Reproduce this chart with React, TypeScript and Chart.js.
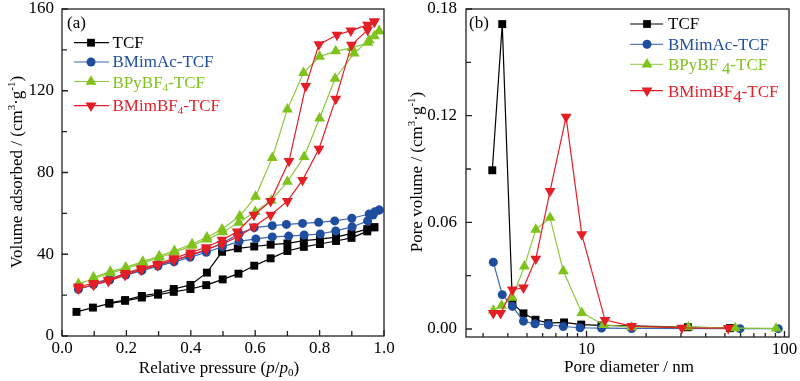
import React, { useEffect, useRef } from 'react';
import { Chart, registerables } from 'chart.js';
Chart.register(...registerables);

const FONT = '"Liberation Serif", "Times New Roman", serif';

// ---------- Panel (a): N2 isotherms ----------
const xTicksA = [0, 0.2, 0.4, 0.6, 0.8, 1.0];
const xMinorA = [0.1, 0.3, 0.5, 0.7, 0.9];
const yTicksA = [0, 40, 80, 120, 160];
const yMinorA = [20, 60, 100, 140];

const tcfAdsP = [0.045, 0.096, 0.147, 0.196, 0.248, 0.298, 0.347, 0.399, 0.448, 0.499, 0.548, 0.597, 0.648, 0.700, 0.751, 0.801, 0.851, 0.899, 0.948, 0.970];
const tcfAdsV = [11.8, 13.9, 15.8, 17.2, 18.8, 20.2, 21.6, 23.0, 24.9, 27.7, 30.5, 34.4, 38.0, 41.6, 43.6, 45.0, 46.5, 48.0, 51.2, 53.2];
const tcfDesP = [0.970, 0.948, 0.899, 0.851, 0.801, 0.751, 0.700, 0.648, 0.597, 0.546, 0.497, 0.450, 0.399, 0.347, 0.298, 0.248, 0.196, 0.147];
const tcfDesV = [53.2, 52.3, 50.2, 48.4, 47.4, 46.7, 45.3, 44.7, 43.8, 42.9, 41.2, 31.0, 25.0, 23.0, 20.9, 19.6, 17.6, 16.2];

const macAdsP = [0.051, 0.098, 0.148, 0.198, 0.248, 0.298, 0.348, 0.398, 0.448, 0.498, 0.550, 0.602, 0.653, 0.704, 0.752, 0.802, 0.850, 0.901, 0.949, 0.966, 0.985];
const macAdsV = [22.8, 25.2, 27.4, 29.8, 32.0, 34.2, 36.3, 38.5, 41.0, 43.6, 46.3, 47.5, 48.5, 48.9, 49.4, 49.9, 51.4, 53.4, 56.3, 59.2, 61.6];
const macDesP = [0.985, 0.972, 0.954, 0.900, 0.847, 0.797, 0.747, 0.697, 0.653, 0.597, 0.550, 0.498, 0.448, 0.398, 0.348, 0.298, 0.248, 0.198, 0.148, 0.098];
const macDesV = [61.6, 60.8, 59.7, 57.6, 56.3, 55.6, 55.1, 54.6, 54.0, 53.0, 50.0, 45.5, 42.0, 39.3, 37.0, 35.0, 32.8, 30.5, 28.0, 25.8];

const pyAdsP = [0.051, 0.098, 0.150, 0.198, 0.251, 0.302, 0.349, 0.404, 0.450, 0.499, 0.549, 0.600, 0.650, 0.700, 0.752, 0.800, 0.848, 0.907, 0.954, 0.985];
const pyAdsV = [25.5, 28.0, 30.8, 33.0, 35.8, 38.3, 40.9, 44.2, 47.3, 50.8, 55.5, 60.8, 66.3, 75.5, 87.7, 106.5, 126.0, 138.3, 144.8, 149.2];
const pyDesP = [0.985, 0.970, 0.950, 0.900, 0.850, 0.800, 0.750, 0.700, 0.653, 0.601, 0.552, 0.497, 0.450, 0.404, 0.349, 0.302, 0.251, 0.198, 0.150, 0.098];
const pyDesV = [149.2, 146.8, 143.5, 141.0, 139.4, 136.7, 128.8, 110.9, 87.2, 68.2, 58.7, 52.2, 48.3, 45.0, 41.7, 39.1, 36.4, 33.6, 31.5, 28.7];

const mbfAdsP = [0.051, 0.098, 0.144, 0.196, 0.246, 0.297, 0.347, 0.399, 0.448, 0.497, 0.546, 0.596, 0.648, 0.700, 0.747, 0.798, 0.850, 0.899, 0.949, 0.970];
const mbfAdsV = [23.2, 25.0, 26.8, 29.8, 32.3, 34.5, 37.0, 39.6, 42.3, 45.0, 48.5, 53.5, 59.2, 66.0, 76.3, 91.5, 116.0, 142.4, 149.8, 153.8];
const mbfDesP = [0.970, 0.949, 0.897, 0.854, 0.798, 0.757, 0.705, 0.648, 0.596, 0.544, 0.497, 0.448, 0.399, 0.347, 0.297, 0.246, 0.196, 0.144, 0.098, 0.051];
const mbfDesV = [153.8, 152.2, 149.4, 147.3, 142.7, 122.3, 85.6, 66.0, 59.2, 51.0, 47.0, 43.4, 40.8, 38.0, 35.2, 33.1, 30.7, 27.4, 25.8, 24.1];

// ---------- Panel (b): pore size distribution ----------
const xTicksB = [10, 100];
const xMinorB = [3, 4, 5, 6, 7, 8, 9, 20, 30, 40, 50, 60, 70, 80, 90];
const yTicksB = [0, 0.06, 0.12, 0.18];
const yMinorB = [0.03, 0.09, 0.15];

const tcfD = [3.34, 3.75, 4.22, 4.80, 5.52, 6.41, 7.70, 9.40, 11.9, 32.5, 53.0];
const tcfPV = [0.0893, 0.1715, 0.0145, 0.0088, 0.0052, 0.0033, 0.0037, 0.0025, 0.0020, 0.0010, 0.0005];
const macD = [3.38, 3.75, 4.22, 4.80, 5.49, 6.41, 7.63, 9.27, 11.9, 16.9, 59.6, 93.0];
const macPV = [0.0376, 0.0193, 0.0127, 0.0044, 0.0029, 0.0024, 0.0014, 0.0007, 0.0005, 0.0003, 0.0002, 0.0002];
const pyD = [3.38, 3.72, 4.22, 4.85, 5.54, 6.54, 7.63, 9.46, 12.2, 16.9, 32.7, 56.4, 90.6];
const pyPV = [0.0104, 0.0132, 0.0176, 0.0352, 0.0559, 0.0626, 0.0326, 0.0091, 0.0024, 0.0010, 0.0010, 0.0005, 0.0003];
const mbfD = [3.38, 3.68, 4.22, 4.80, 5.54, 6.54, 7.88, 9.46, 12.4, 16.9, 30.3, 52.0];
const mbfPV = [0.0089, 0.0089, 0.0221, 0.0232, 0.0395, 0.0776, 0.1193, 0.0532, 0.0050, 0.0016, 0.0006, 0.0005];

const BLACK = '#000000';
const BLUE = '#1f4e9e';
const BLUE_LINE = '#3d66b4';
const GREEN = '#7fc21c';
const GREEN_LINE = '#8cc83a';
const RED = '#e31e25';

type Part = { t: string; size?: number; dy?: number; italic?: boolean };

function partsWidth(ctx: CanvasRenderingContext2D, parts: Part[], base: number) {
  let w = 0;
  for (const p of parts) {
    ctx.font = `${p.italic ? 'italic ' : ''}${p.size ?? base}px ${FONT}`;
    w += ctx.measureText(p.t).width;
  }
  return w;
}

function drawParts(ctx: CanvasRenderingContext2D, x: number, y: number, parts: Part[], base: number, color: string) {
  let cx = x;
  ctx.fillStyle = color;
  ctx.textBaseline = 'alphabetic';
  ctx.textAlign = 'left';
  for (const p of parts) {
    ctx.font = `${p.italic ? 'italic ' : ''}${p.size ?? base}px ${FONT}`;
    ctx.fillText(p.t, cx, y + (p.dy ?? 0));
    cx += ctx.measureText(p.t).width;
  }
}

function drawMarker(ctx: CanvasRenderingContext2D, kind: string, x: number, y: number, color: string) {
  ctx.fillStyle = color;
  ctx.beginPath();
  if (kind === 'square') {
    ctx.rect(x - 3.9, y - 3.9, 7.8, 7.8);
  } else if (kind === 'circle') {
    ctx.arc(x, y, 4.5, 0, Math.PI * 2);
  } else {
    const r = 6.3;
    const s = kind === 'tri' ? 1 : -1;
    ctx.moveTo(x, y - s * r);
    ctx.lineTo(x + r * 0.866, y + s * r * 0.5);
    ctx.lineTo(x - r * 0.866, y + s * r * 0.5);
    ctx.closePath();
  }
  ctx.fill();
}

type LegendItem = { y: number; base: number; line: string; mark: string; text: string; kind: string; parts: Part[] };

function drawLegend(ctx: CanvasRenderingContext2D, items: LegendItem[], x0: number, x1: number, mx: number, tx: number) {
  for (const it of items) {
    ctx.strokeStyle = it.line;
    ctx.lineWidth = 1.2;
    ctx.beginPath();
    ctx.moveTo(x0, it.y);
    ctx.lineTo(x1, it.y);
    ctx.stroke();
    drawMarker(ctx, it.kind, mx, it.y, it.mark);
    drawParts(ctx, tx, it.base, it.parts, 17, it.text);
  }
}

function drawFrame(chart: any, xMaj: number[], xMin: number[], yMaj: number[], yMin: number[], xMinLen: number) {
  const { ctx, chartArea: a, scales } = chart;
  const x = scales.x, y = scales.y;
  ctx.save();
  ctx.strokeStyle = '#222';
  ctx.lineWidth = 1.3;
  ctx.strokeRect(a.left, a.top, a.right - a.left, a.bottom - a.top);
  ctx.beginPath();
  for (const v of xMaj) { const p = x.getPixelForValue(v); ctx.moveTo(p, a.bottom); ctx.lineTo(p, a.bottom - 6); }
  for (const v of xMin) { const p = x.getPixelForValue(v); ctx.moveTo(p, a.bottom); ctx.lineTo(p, a.bottom - xMinLen); }
  for (const v of yMaj) { const p = y.getPixelForValue(v); ctx.moveTo(a.left, p); ctx.lineTo(a.left + 6, p); }
  for (const v of yMin) { const p = y.getPixelForValue(v); ctx.moveTo(a.left, p); ctx.lineTo(a.left + 5, p); }
  ctx.stroke();
  ctx.restore();
}

function drawYTitle(ctx: CanvasRenderingContext2D, parts: Part[], bx: number, cy: number) {
  const w = partsWidth(ctx, parts, 17);
  ctx.save();
  ctx.translate(bx, cy);
  ctx.rotate(-Math.PI / 2);
  drawParts(ctx, -w / 2, 0, parts, 17, '#000');
  ctx.restore();
}

function drawXTitle(ctx: CanvasRenderingContext2D, parts: Part[], cx: number, by: number) {
  const w = partsWidth(ctx, parts, 17);
  drawParts(ctx, cx - w / 2, by, parts, 17, '#000');
}

function series(xs: number[], ys: number[], color: string, line: string, style: string, rot: number, radius: number, order: number) {
  return {
    data: xs.map((x, i) => ({ x, y: ys[i] })),
    showLine: true,
    borderColor: line,
    backgroundColor: color,
    borderWidth: 1.2,
    pointStyle: style,
    pointRotation: rot,
    pointRadius: radius,
    pointHoverRadius: radius,
    pointBackgroundColor: color,
    pointBorderColor: color,
    pointBorderWidth: 0,
    tension: 0,
    order,
  };
}

const tickFont = { family: FONT, size: 17 };

function setTicks(vals: number[]) {
  return (s: any) => { s.ticks = vals.map((v) => ({ value: v })); };
}

const SQ = 5.6;
const CI = 4.5;
const TR = 6.3;

function configA(): any {
  return {
    type: 'scatter',
    data: {
      datasets: [
        series(tcfAdsP, tcfAdsV, BLACK, BLACK, 'rect', 0, SQ, 3),
        series(tcfDesP, tcfDesV, BLACK, BLACK, 'rect', 0, SQ, 3),
        series(macAdsP, macAdsV, BLUE, BLUE_LINE, 'circle', 0, CI, 2),
        series(macDesP, macDesV, BLUE, BLUE_LINE, 'circle', 0, CI, 2),
        series(pyAdsP, pyAdsV, GREEN, GREEN_LINE, 'triangle', 0, TR, 1),
        series(pyDesP, pyDesV, GREEN, GREEN_LINE, 'triangle', 0, TR, 1),
        series(mbfAdsP, mbfAdsV, RED, RED, 'triangle', 180, TR, 0),
        series(mbfDesP, mbfDesV, RED, RED, 'triangle', 180, TR, 0),
      ],
    },
    options: {
      responsive: false,
      maintainAspectRatio: false,
      devicePixelRatio: 1,
      animation: false,
      events: [],
      layout: { padding: { top: 9, right: 16, left: 0, bottom: 0 } },
      plugins: { legend: { display: false }, tooltip: { enabled: false } },
      scales: {
        x: {
          type: 'linear', min: 0, max: 1,
          grid: { display: false, drawTicks: false }, border: { display: false },
          afterBuildTicks: setTicks(xTicksA),
          afterFit: (s: any) => { s.height = 45; s.paddingLeft = 0; s.paddingRight = 0; },
          ticks: { font: tickFont, color: '#000', padding: 2, maxRotation: 0, minRotation: 0, autoSkip: false, callback: (v: any) => Number(v).toFixed(1) },
        },
        y: {
          type: 'linear', min: 0, max: 160,
          grid: { display: false, drawTicks: false }, border: { display: false },
          afterBuildTicks: setTicks(yTicksA),
          afterFit: (s: any) => { s.width = 62; s.paddingTop = 0; s.paddingBottom = 0; },
          ticks: { font: tickFont, color: '#000', padding: 8, autoSkip: false, callback: (v: any) => String(v) },
        },
      },
    },
    plugins: [{
      id: 'decoA',
      afterDraw(chart: any) {
        const ctx = chart.ctx;
        drawFrame(chart, xTicksA, xMinorA, yTicksA, yMinorA, 5);
        ctx.save();
        drawParts(ctx, 67, 27.5, [{ t: '(a)' }], 17, '#000');
        drawLegend(ctx, [
          { y: 42.7, base: 47.7, line: BLACK, mark: BLACK, text: BLACK, kind: 'square', parts: [{ t: 'TCF' }] },
          { y: 62, base: 66.8, line: BLUE_LINE, mark: BLUE, text: BLUE, kind: 'circle', parts: [{ t: 'BMimAc-TCF' }] },
          { y: 81.5, base: 87.5, line: GREEN_LINE, mark: GREEN, text: GREEN, kind: 'tri', parts: [{ t: 'BPyBF' }, { t: '4', size: 11, dy: 3 }, { t: '-TCF' }] },
          { y: 105.7, base: 110.7, line: RED, mark: RED, text: RED, kind: 'itri', parts: [{ t: 'BMimBF' }, { t: '4', size: 11, dy: 3 }, { t: '-TCF' }] },
        ], 74, 109, 91, 112.5);
        drawXTitle(ctx, [{ t: 'Relative pressure (' }, { t: 'p', italic: true }, { t: '/' }, { t: 'p', italic: true }, { t: '0', size: 11, dy: 3 }, { t: ')' }], 219, 372.5);
        drawYTitle(ctx, [{ t: 'Volume adsorbed / (cm' }, { t: '3', size: 11, dy: -7 }, { t: '·g' }, { t: '-1', size: 11, dy: -7 }, { t: ')' }], 22, 172);
        ctx.restore();
      },
    }],
  };
}

function configB(): any {
  return {
    type: 'scatter',
    data: {
      datasets: [
        series(tcfD, tcfPV, BLACK, BLACK, 'rect', 0, SQ, 3),
        series(macD, macPV, BLUE, BLUE_LINE, 'circle', 0, CI, 2),
        series(pyD, pyPV, GREEN, GREEN_LINE, 'triangle', 0, TR, 1),
        series(mbfD, mbfPV, RED, RED, 'triangle', 180, TR, 0),
      ],
    },
    options: {
      responsive: false,
      maintainAspectRatio: false,
      devicePixelRatio: 1,
      animation: false,
      events: [],
      layout: { padding: { top: 9, right: 11, left: 0, bottom: 0 } },
      plugins: { legend: { display: false }, tooltip: { enabled: false } },
      scales: {
        x: {
          type: 'logarithmic', min: 2.46, max: 105.4,
          grid: { display: false, drawTicks: false }, border: { display: false },
          afterBuildTicks: setTicks(xTicksB),
          afterFit: (s: any) => { s.height = 44; s.paddingLeft = 0; s.paddingRight = 0; },
          ticks: { font: tickFont, color: '#000', padding: 2, maxRotation: 0, minRotation: 0, autoSkip: false, callback: (v: any) => String(v) },
        },
        y: {
          type: 'linear', min: -0.0045, max: 0.18,
          grid: { display: false, drawTicks: false }, border: { display: false },
          afterBuildTicks: setTicks(yTicksB),
          afterFit: (s: any) => { s.width = 66; s.paddingTop = 0; s.paddingBottom = 0; },
          ticks: { font: tickFont, color: '#000', padding: 9, autoSkip: false, callback: (v: any) => Number(v).toFixed(2) },
        },
      },
    },
    plugins: [{
      id: 'decoB',
      afterDraw(chart: any) {
        const ctx = chart.ctx;
        drawFrame(chart, xTicksB, xMinorB, yTicksB, yMinorB, 4);
        ctx.save();
        drawParts(ctx, 69, 27.5, [{ t: '(b)' }], 17, '#000');
        drawLegend(ctx, [
          { y: 24, base: 29.3, line: BLACK, mark: BLACK, text: BLACK, kind: 'square', parts: [{ t: 'TCF' }] },
          { y: 44.3, base: 50, line: '#5a7ec4', mark: BLUE, text: BLUE, kind: 'circle', parts: [{ t: 'BMimAc-TCF' }] },
          { y: 64.3, base: 70, line: '#a6d262', mark: GREEN, text: GREEN, kind: 'tri', parts: [{ t: 'BPyBF ' }, { t: '4', size: 16, dy: 4 }, { t: '-TCF' }] },
          { y: 90.7, base: 96.7, line: RED, mark: RED, text: RED, kind: 'itri', parts: [{ t: 'BMimBF' }, { t: '4', size: 17, dy: 5 }, { t: '-TCF' }] },
        ], 230, 263, 247, 268);
        drawXTitle(ctx, [{ t: 'Pore diameter / nm' }], 229, 372);
        drawYTitle(ctx, [{ t: 'Pore volume / (cm' }, { t: '3', size: 11, dy: -7 }, { t: '·g' }, { t: '-1', size: 11, dy: -7 }, { t: ')' }], 22, 172);
        ctx.restore();
      },
    }],
  };
}

export default function App() {
  const refA = useRef<HTMLCanvasElement>(null);
  const refB = useRef<HTMLCanvasElement>(null);
  useEffect(() => {
    const a = new Chart(refA.current as HTMLCanvasElement, configA());
    const b = new Chart(refB.current as HTMLCanvasElement, configB());
    return () => { a.destroy(); b.destroy(); };
  }, []);
  return (
    <div style={{ position: 'fixed', left: 0, top: 0, width: 800, height: 381, background: '#fff' }}>
      <canvas ref={refA} width={400} height={381} style={{ position: 'absolute', left: 0, top: 0, width: 400, height: 381 }} />
      <canvas ref={refB} width={400} height={381} style={{ position: 'absolute', left: 400, top: 0, width: 400, height: 381 }} />
    </div>
  );
}
